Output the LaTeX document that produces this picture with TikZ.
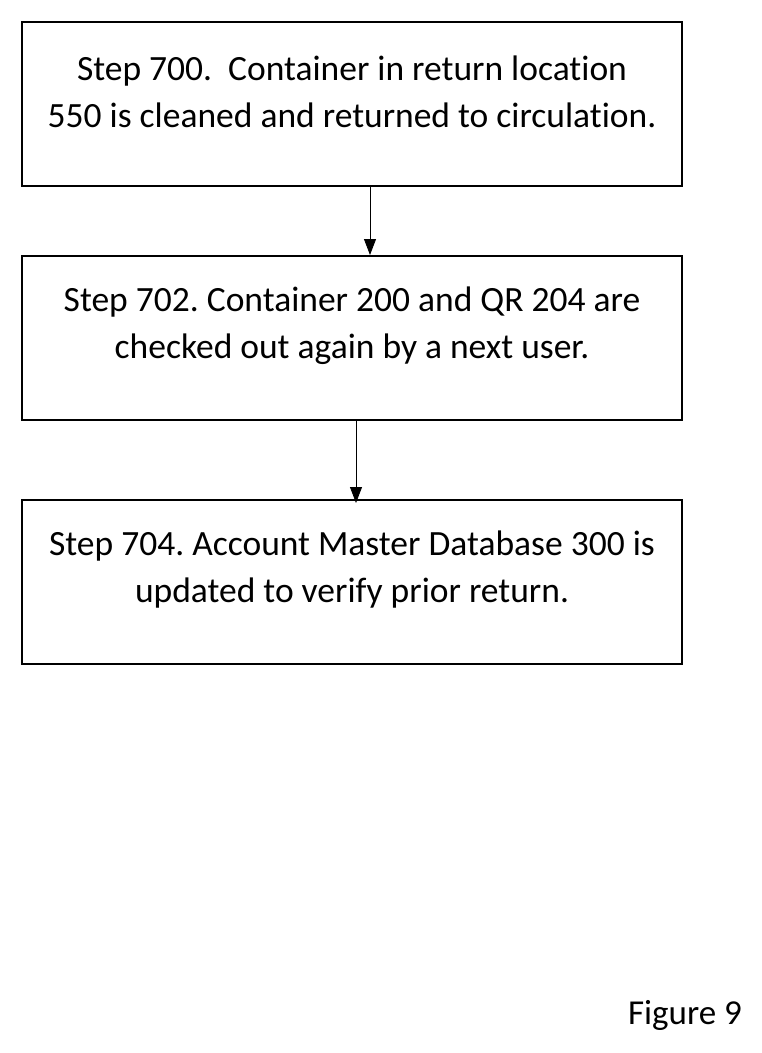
\documentclass[tikz,border=0pt]{standalone}
\usepackage{fontspec}
\setmainfont[Ligatures={NoCommon,NoContextual}]{Carlito}
\usetikzlibrary{arrows.meta}
\begin{document}
\frenchspacing
\begin{tikzpicture}[x=1pt,y=-1pt,
  box/.style={draw,line width=2pt,minimum width=660pt,minimum height=164pt,inner sep=0pt},
  txt/.style={align=center,font=\fontsize{35.5}{47}\selectfont,inner sep=0pt},
  arr/.style={-{Triangle[length=16pt,width=12pt]},line width=0.8pt}]
\useasboundingbox (0,0) rectangle (762,1053);
\node[box] (s700) at (352,104) {};
\node[box] (s702) at (352,338) {};
\node[box] (s704) at (352,582) {};
\node[txt] (t700) at (352,92) {Step 700.\ \ Container in return location\\550 is cleaned and returned to circulation.};
\node[txt] (t702) at (352,326) {Step 702. Container 200 and QR 204 are\\checked out again by a next user.};
\node[txt] (t704) at (352,570) {Step 704. Account Master Database 300 is\\updated to verify prior return.};
\draw[arr] ([xshift=18pt]s700.south) -- ([xshift=18pt]s702.north);
\draw[arr] ([xshift=4pt]s702.south) -- ([xshift=4pt,yshift=-4pt]s704.north);
\node[font=\fontsize{35}{38}\selectfont,anchor=center] (fig) at (685,1015) {Figure 9};
\end{tikzpicture}
\end{document}
